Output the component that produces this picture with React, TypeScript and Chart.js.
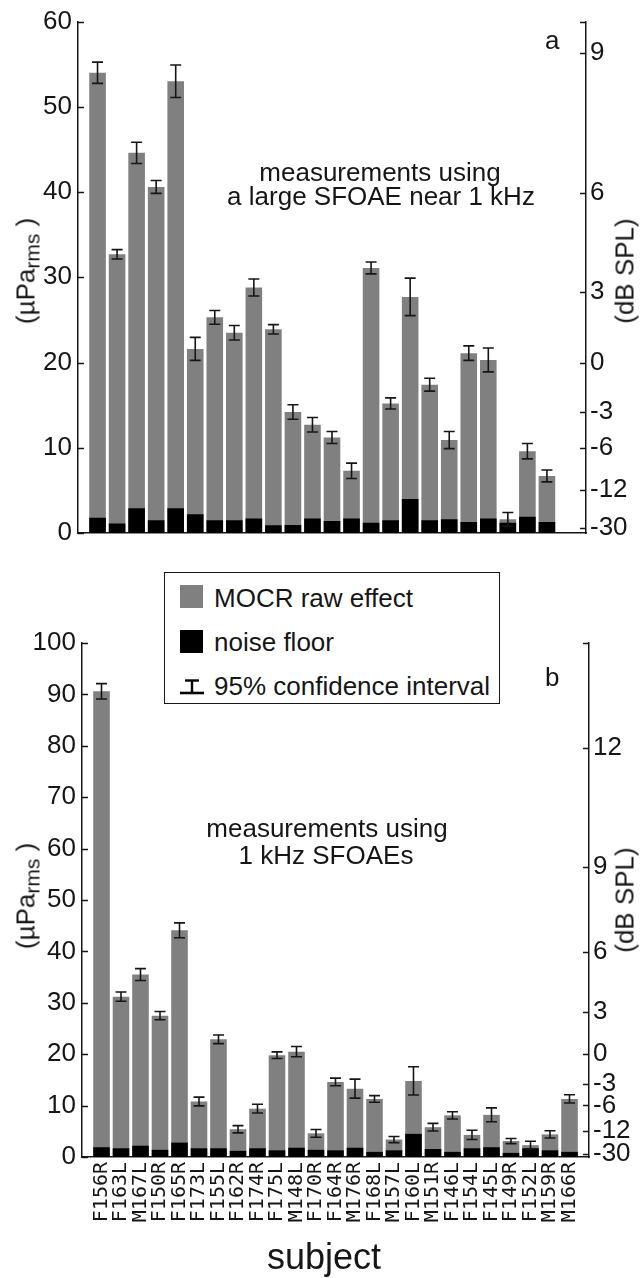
import React, { useEffect, useRef } from 'react';
import { Chart, registerables } from 'chart.js';

Chart.register(...registerables);

// ---------- data ----------
const subjects = [
  'F156R', 'F163L', 'M167L', 'F150R', 'F165R', 'F173L', 'F155L', 'F162R', 'F174R',
  'F175L', 'M148L', 'F170R', 'F164R', 'M176R', 'F168L', 'M157L', 'F160L', 'M151R',
  'F146L', 'F154L', 'F145L', 'F149R', 'F152L', 'M159R', 'M166R',
];

// panel a: large SFOAE near 1 kHz (µPa rms)
const rawA = [54.0, 32.7, 44.6, 40.6, 53.0, 21.6, 25.3, 23.5, 28.8, 23.9, 14.2, 12.7, 11.2, 7.3, 31.1, 15.2, 27.7, 17.4, 10.9, 21.1, 20.3, 1.6, 9.6, 6.7, null];
const noiseA = [1.8, 1.1, 2.9, 1.5, 2.9, 2.2, 1.5, 1.5, 1.7, 0.9, 0.95, 1.7, 1.4, 1.7, 1.2, 1.5, 4.0, 1.5, 1.6, 1.3, 1.7, 1.2, 1.9, 1.3, null];
const ciA = [1.25, 0.55, 1.25, 0.75, 1.9, 1.35, 0.8, 0.85, 1.0, 0.55, 0.85, 0.85, 0.7, 0.9, 0.7, 0.65, 2.2, 0.75, 1.0, 0.85, 1.4, 0.8, 0.9, 0.7, null];

// panel b: 1 kHz SFOAEs (µPa rms)
const rawB = [90.6, 31.2, 35.5, 27.5, 44.1, 10.8, 22.9, 5.4, 9.4, 19.8, 20.5, 4.6, 14.6, 13.3, 11.3, 3.4, 14.8, 5.8, 8.1, 4.3, 8.2, 3.1, 2.3, 4.4, 11.3];
const noiseB = [1.9, 1.7, 2.2, 1.4, 2.8, 1.7, 1.7, 1.2, 1.7, 1.3, 1.8, 1.4, 1.3, 1.8, 1.0, 1.3, 4.5, 1.55, 1.0, 1.7, 1.9, 0.8, 1.7, 1.3, 1.0];
const ciB = [1.5, 0.9, 1.15, 0.8, 1.45, 0.85, 0.85, 0.7, 0.85, 0.65, 1.0, 0.75, 0.75, 1.85, 0.65, 0.6, 2.75, 0.75, 0.7, 0.9, 1.35, 0.5, 0.75, 0.7, 0.8];

// right-axis tick labels (dB SPL)
const dbTicksA = [9, 6, 3, 0, -3, -6, -12, -30];
const dbTicksB = [12, 9, 6, 3, 0, -3, -6, -12, -30];
const yMaxA = 60;
const yMaxB = 100;
const yStep = 10;

// ---------- styling ----------
const INK = '#161616';
const GREY = '#808080';
const SANS = '"Liberation Sans", Arial, sans-serif';
const NARROW = '"Liberation Sans Narrow", "Liberation Sans", Arial, sans-serif';
const MONO = '"DejaVu Sans Mono", monospace';
const REF_PA = 20;
const dbToPa = (db: number) => REF_PA * Math.pow(10, db / 20);

function makeErrorBars(values: (number | null)[], ci: (number | null)[]) {
  return {
    id: 'errorBars',
    afterDatasetsDraw(chart: any) {
      const { ctx } = chart;
      const xs = chart.scales.x;
      const ys = chart.scales.y;
      const cap = 5.5;
      ctx.save();
      ctx.strokeStyle = INK;
      ctx.lineWidth = 1.6;
      values.forEach((v, i) => {
        const h = ci[i];
        if (v == null || h == null) return;
        const x = xs.getPixelForValue(i);
        const y1 = ys.getPixelForValue(v + h);
        const y2 = ys.getPixelForValue(Math.max(0, v - h));
        ctx.beginPath();
        ctx.moveTo(x, y1);
        ctx.lineTo(x, y2);
        ctx.moveTo(x - cap, y1);
        ctx.lineTo(x + cap, y1);
        ctx.moveTo(x - cap, y2);
        ctx.lineTo(x + cap, y2);
        ctx.stroke();
      });
      ctx.restore();
    },
  };
}

const inwardTicks = {
  id: 'inwardTicks',
  afterDraw(chart: any) {
    const { ctx, chartArea } = chart;
    ctx.save();
    ctx.strokeStyle = INK;
    ctx.lineWidth = 1.5;
    ['y', 'y1'].forEach((id) => {
      const s = chart.scales[id];
      if (!s) return;
      const left = s.position === 'left';
      const x0 = left ? chartArea.left : chartArea.right;
      const dir = left ? 1 : -1;
      s.ticks.forEach((t: any) => {
        const y = Math.round(s.getPixelForValue(t.value)) + 0.5;
        ctx.beginPath();
        ctx.moveTo(x0, y);
        ctx.lineTo(x0 + dir * 6, y);
        ctx.stroke();
      });
    });
    ctx.restore();
  },
};

type PanelProps = {
  raw: (number | null)[];
  noise: (number | null)[];
  ci: (number | null)[];
  dbTicks: number[];
  yMax: number;
  showLabels: boolean;
  top: number;
  width: number;
  height: number;
  area: { left: number; right: number; top: number; bottom: number };
};

function Panel(p: PanelProps) {
  const ref = useRef<HTMLCanvasElement>(null);
  useEffect(() => {
    if (!ref.current) return;
    const n = subjects.length;
    const toPts = (arr: (number | null)[]) =>
      arr
        .map((v, i) => (v == null ? null : { x: i, y: v }))
        .filter((d) => d !== null) as { x: number; y: number }[];
    const border = { display: true, color: INK, width: 1.5 };
    const chart = new Chart(ref.current, {
      type: 'bar',
      data: {
        datasets: [
          {
            label: 'noise floor',
            data: toPts(p.noise),
            backgroundColor: '#000000',
            grouped: false,
            order: 0,
            categoryPercentage: 1,
            barPercentage: 0.85,
          } as any,
          {
            label: 'MOCR raw effect',
            data: toPts(p.raw),
            backgroundColor: GREY,
            grouped: false,
            order: 1,
            categoryPercentage: 1,
            barPercentage: 0.85,
          } as any,
        ],
      },
      options: {
        responsive: false,
        animation: false,
        devicePixelRatio: 1,
        layout: { padding: { top: p.area.top, left: 0, right: 0, bottom: 0 } },
        plugins: { legend: { display: false }, tooltip: { enabled: false } },
        scales: {
          x: {
            type: 'linear',
            min: -1,
            max: n,
            offset: false,
            grid: { display: false, drawTicks: false },
            border,
            ticks: {
              display: p.showLabels,
              stepSize: 1,
              autoSkip: false,
              minRotation: 90,
              maxRotation: 90,
              padding: 5,
              color: INK,
              font: { family: MONO, size: 20 },
              callback: (v: any) => subjects[v as number] ?? '',
            },
            afterFit: (s: any) => {
              s.height = p.height - p.area.bottom;
            },
          },
          y: {
            position: 'left',
            min: 0,
            max: p.yMax,
            grid: { display: false, drawTicks: false },
            border,
            ticks: {
              stepSize: yStep,
              autoSkip: false,
              padding: 6,
              color: INK,
              font: { family: NARROW, size: 26 },
            },
            afterFit: (s: any) => {
              s.width = p.area.left;
            },
          },
          y1: {
            position: 'right',
            min: 0,
            max: p.yMax,
            grid: { display: false, drawTicks: false },
            border,
            ticks: {
              autoSkip: false,
              padding: 4,
              color: INK,
              font: { family: NARROW, size: 26 },
              callback: (_v: any, i: number) => (i < p.dbTicks.length ? String(p.dbTicks[i]) : ''),
            },
            afterBuildTicks: (s: any) => {
              s.ticks = [...p.dbTicks.map((d) => ({ value: dbToPa(d) })), { value: p.yMax }];
            },
            afterFit: (s: any) => {
              s.width = p.width - p.area.right;
            },
          },
        },
      } as any,
      plugins: [makeErrorBars(p.raw, p.ci), inwardTicks],
    });
    return () => chart.destroy();
  }, []);
  return (
    <canvas
      ref={ref}
      width={p.width}
      height={p.height}
      style={{ position: 'absolute', left: 0, top: p.top, width: p.width, height: p.height }}
    />
  );
}

const txt: React.CSSProperties = {
  position: 'absolute',
  fontFamily: SANS,
  fontSize: 26,
  lineHeight: '29px',
  color: INK,
  whiteSpace: 'nowrap',
};

function Centered({ x, top, children, size }: { x: number; top: number; children: React.ReactNode; size?: number }) {
  const extra: React.CSSProperties = size ? { fontSize: size, lineHeight: `${Math.round(size * 1.12)}px` } : {};
  return <div style={{ ...txt, ...extra, left: x, top, transform: 'translateX(-50%)' }}>{children}</div>;
}

function Vertical({ cx, cy, children }: { cx: number; cy: number; children: React.ReactNode }) {
  return (
    <div
      style={{
        ...txt,
        left: cx,
        top: cy,
        transform: 'translate(-50%, -50%) rotate(-90deg)',
      }}
    >
      {children}
    </div>
  );
}

const sub: React.CSSProperties = { fontSize: 21, verticalAlign: '-5px' };

export default function App() {
  return (
    <div
      style={{
        position: 'absolute',
        left: 0,
        top: 0,
        width: 644,
        height: 1278,
        background: '#fff',
        overflow: 'hidden',
        fontFamily: SANS,
      }}
    >
      <Panel
        raw={rawA}
        noise={noiseA}
        ci={ciA}
        dbTicks={dbTicksA}
        yMax={yMaxA}
        showLabels={false}
        top={0}
        width={644}
        height={560}
        area={{ left: 78, right: 586, top: 17, bottom: 533 }}
      />
      <Panel
        raw={rawB}
        noise={noiseB}
        ci={ciB}
        dbTicks={dbTicksB}
        yMax={yMaxB}
        showLabels={true}
        top={600}
        width={644}
        height={678}
        area={{ left: 82, right: 589, top: 43, bottom: 557 }}
      />

      {/* axis titles */}
      <Vertical cx={29} cy={271}>
        (µPa<span style={sub}>rms</span> )
      </Vertical>
      <Vertical cx={625} cy={271}>(dB SPL)</Vertical>
      <Vertical cx={29} cy={896}>
        (µPa<span style={sub}>rms</span> )
      </Vertical>
      <Vertical cx={625} cy={900}>(dB SPL)</Vertical>
      <Centered x={324} top={1237} size={36}>subject</Centered>

      {/* panel letters */}
      <div style={{ ...txt, left: 545, top: 26 }}>a</div>
      <div style={{ ...txt, left: 545, top: 663 }}>b</div>

      {/* annotations */}
      <Centered x={380} top={158}>measurements using</Centered>
      <Centered x={381} top={182}>a large SFOAE near 1 kHz</Centered>
      <Centered x={327} top={814}>measurements using</Centered>
      <Centered x={326} top={841}>1 kHz SFOAEs</Centered>

      {/* legend */}
      <div
        style={{
          position: 'absolute',
          left: 164,
          top: 572,
          width: 336,
          height: 132,
          boxSizing: 'border-box',
          border: `1.5px solid ${INK}`,
          background: '#fff',
          zIndex: 2,
        }}
      >
        <div style={{ position: 'absolute', left: 15, top: 12, width: 23, height: 23, background: GREY }} />
        <div style={{ ...txt, left: 49, top: 11 }}>MOCR raw effect</div>
        <div style={{ position: 'absolute', left: 15, top: 57, width: 23, height: 23, background: '#000' }} />
        <div style={{ ...txt, left: 49, top: 55 }}>noise floor</div>
        <svg style={{ position: 'absolute', left: 15, top: 106 }} width={24} height={16}>
          <line x1={12} y1={1} x2={12} y2={14} stroke="#000" strokeWidth={2.4} />
          <line x1={5} y1={1.5} x2={19} y2={1.5} stroke="#000" strokeWidth={2.4} />
          <line x1={0} y1={14} x2={24} y2={14} stroke="#000" strokeWidth={2.6} />
        </svg>
        <div style={{ ...txt, left: 49, top: 99 }}>95% confidence interval</div>
      </div>
    </div>
  );
}
